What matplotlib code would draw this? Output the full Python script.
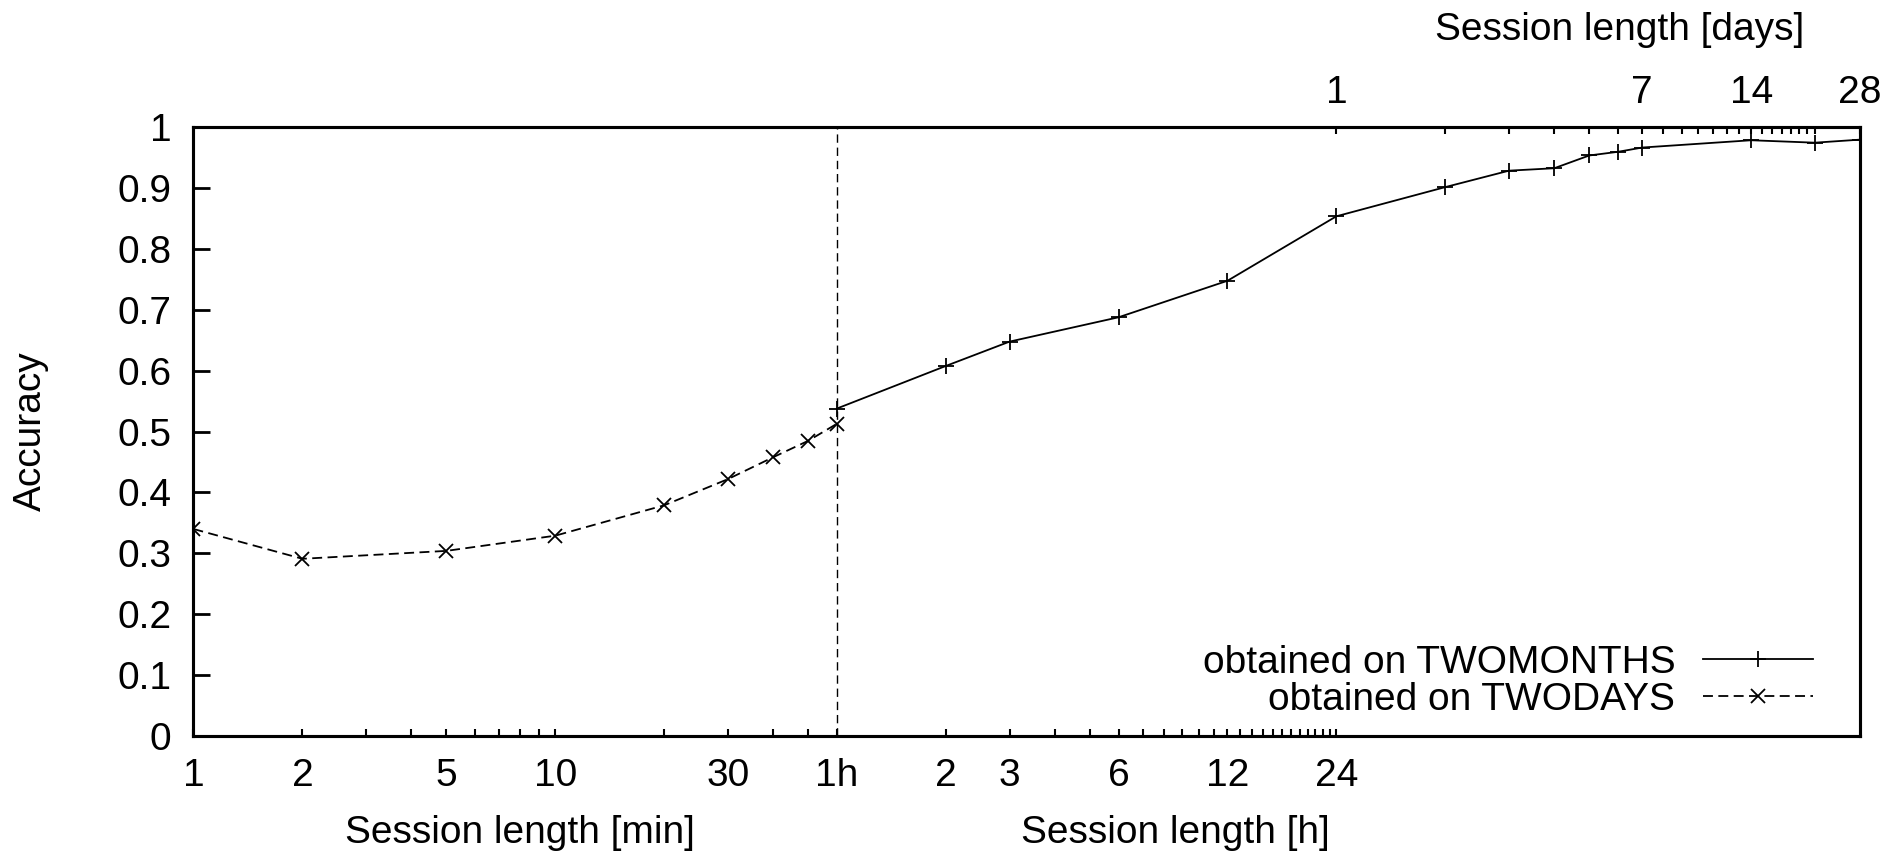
import matplotlib
matplotlib.use("Agg")
import matplotlib.pyplot as plt
from matplotlib.ticker import NullLocator

plt.rcParams['font.family'] = ['Liberation Sans', 'DejaVu Sans']
plt.rcParams['font.size'] = 28

# session lengths are in minutes
twodays_x = [1, 2, 5, 10, 20, 30, 40, 50, 60]
twodays_acc = [0.340, 0.291, 0.304, 0.329, 0.379, 0.422, 0.458, 0.485, 0.513]

twomonths_x = [60, 120, 180, 360, 720, 1440, 2880, 4320, 5760, 7200, 8640,
               10080, 20160, 30240, 40320]
twomonths_acc = [0.538, 0.608, 0.648, 0.688, 0.748, 0.854, 0.902, 0.929, 0.933,
                 0.954, 0.960, 0.967, 0.979, 0.975, 0.980]

# tick marks
min_ticks = [1, 2, 3, 4, 5, 6, 7, 8, 9, 10, 20, 30, 40, 50]
min_labels = {1: "1", 2: "2", 5: "5", 10: "10", 30: "30"}
hour_ticks = list(range(1, 25))
hour_labels = {1: "1h", 2: "2", 3: "3", 6: "6", 12: "12", 24: "24"}
day_ticks = list(range(1, 22)) + [28]
day_labels = {1: "1", 7: "7", 14: "14", 28: "28"}
y_ticks = [0, 0.1, 0.2, 0.3, 0.4, 0.5, 0.6, 0.7, 0.8, 0.9, 1]

fig = plt.figure(figsize=(18.93, 8.59), dpi=100)
ax = fig.add_axes([0.1022, 0.1434, 0.8804, 0.7082])

ax.plot(twomonths_x, twomonths_acc, color="black", lw=1.3, marker="+",
        markersize=11, markeredgewidth=1.3, label="obtained on TWOMONTHS")
ax.plot(twodays_x, twodays_acc, color="black", lw=1.3, ls=(0, (5.5, 3)),
        marker="x", markersize=9.5, markeredgewidth=1.3,
        label="obtained on TWODAYS")
ax.axvline(60, color="black", lw=1.0, ls=(0, (6, 3.5)))

ax.set_xscale("log")
ax.set_xlim(1, 40320)
ax.set_ylim(0, 1)

# bottom axis: minutes then hours
bx = min_ticks + [h * 60 for h in hour_ticks]
bl = [min_labels.get(m, "") for m in min_ticks] + [hour_labels.get(h, "") for h in hour_ticks]
ax.set_xticks(bx)
ax.set_xticklabels(bl)
ax.xaxis.set_minor_locator(NullLocator())
ax.tick_params(axis="x", direction="in", length=5, width=1.5, pad=16, top=False)

ax.set_yticks(y_ticks)
ax.set_yticklabels(["%g" % v for v in y_ticks])
ax.tick_params(axis="y", direction="in", length=12.5, width=2, pad=16, right=False)

for s in ax.spines.values():
    s.set_linewidth(2.2)

# top axis: days
ax2 = ax.twiny()
ax2.set_xscale("log")
ax2.set_xlim(ax.get_xlim())
ax2.set_xticks([d * 1440 for d in day_ticks])
ax2.set_xticklabels([day_labels.get(d, "") for d in day_ticks])
ax2.xaxis.set_minor_locator(NullLocator())
ax2.tick_params(axis="x", direction="in", length=5, width=1.5, pad=12)
for s in ax2.spines.values():
    s.set_linewidth(2.2)

fig.text(31 / 1893, 1 - 431 / 859, "Accuracy", rotation=90, ha="center", va="center")
fig.text(520 / 1893, 1 - 833 / 859, "Session length [min]", ha="center", va="center")
fig.text(1175 / 1893, 1 - 833 / 859, "Session length [h]", ha="center", va="center")
fig.text(1620 / 1893, 1 - 30 / 859, "Session length [days]", ha="center", va="center")

ax.legend(loc="lower right", bbox_to_anchor=(0.972, 0.03), markerfirst=False,
          frameon=False, borderpad=0, borderaxespad=0, handlelength=2.85,
          handletextpad=0.7, labelspacing=0.02)

fig.savefig("out.png", dpi=100)
